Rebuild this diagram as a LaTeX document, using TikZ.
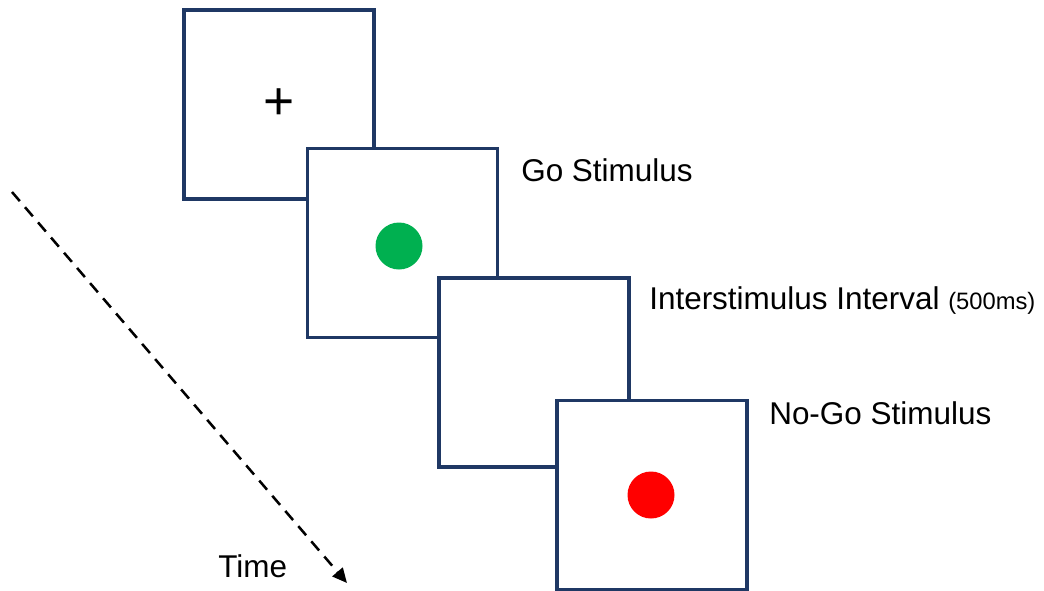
\documentclass[tikz,border=0pt]{standalone}
\usepackage{fontspec}
\setmainfont{Liberation Sans}
\usetikzlibrary{arrows.meta}

\definecolor{framecol}{HTML}{1F3864}
\definecolor{gocol}{HTML}{00B050}
\definecolor{nogocol}{HTML}{FF0000}

\begin{document}
\begin{tikzpicture}[
    x=0.75pt, y=-0.75pt,
    line join=miter,
    screen/.style={draw=framecol, line width=2.4pt, fill=white,
        minimum width=142.5pt, minimum height=141.75pt, inner sep=0pt},
    dot/.style={circle, inner sep=0pt, minimum size=35.25pt},
    caption/.style={anchor=base west, inner sep=0pt,
        font=\fontsize{23.6}{28}\selectfont},
    timeline/.style={dashed, dash pattern=on 9pt off 6pt, line width=1.9pt,
        -{Triangle[length=11pt, width=10pt]}}
]
\useasboundingbox (0,0) rectangle (1044,590);

% screens, each one drawn over the one before
\node[screen, font=\fontsize{40}{40}\selectfont] (fix) at (279,104.5) {+};
\node[screen] (go)   at (402.5,243) {};
\node[screen] (isi)  at (534,372.5) {};
\node[screen] (nogo) at (652,495) {};

\node[dot, fill=gocol]   (godot)   at (399,246) {};
\node[dot, fill=nogocol] (nogodot) at (651,495) {};

\node[caption] (golabel)   at (521,181) {Go Stimulus};
\node[caption] (isilabel)  at (649,309) {Interstimulus Interval {\fontsize{17.8}{20}\selectfont(500ms)}};
\node[caption] (nogolabel) at (769,424) {No-Go Stimulus};

% time axis
\coordinate (t0) at (12,192);
\coordinate (t1) at (347,583);
\draw[timeline] (t0) -- (t1);
\node[caption] (timelabel) at (218,577) {Time};
\end{tikzpicture}
\end{document}
